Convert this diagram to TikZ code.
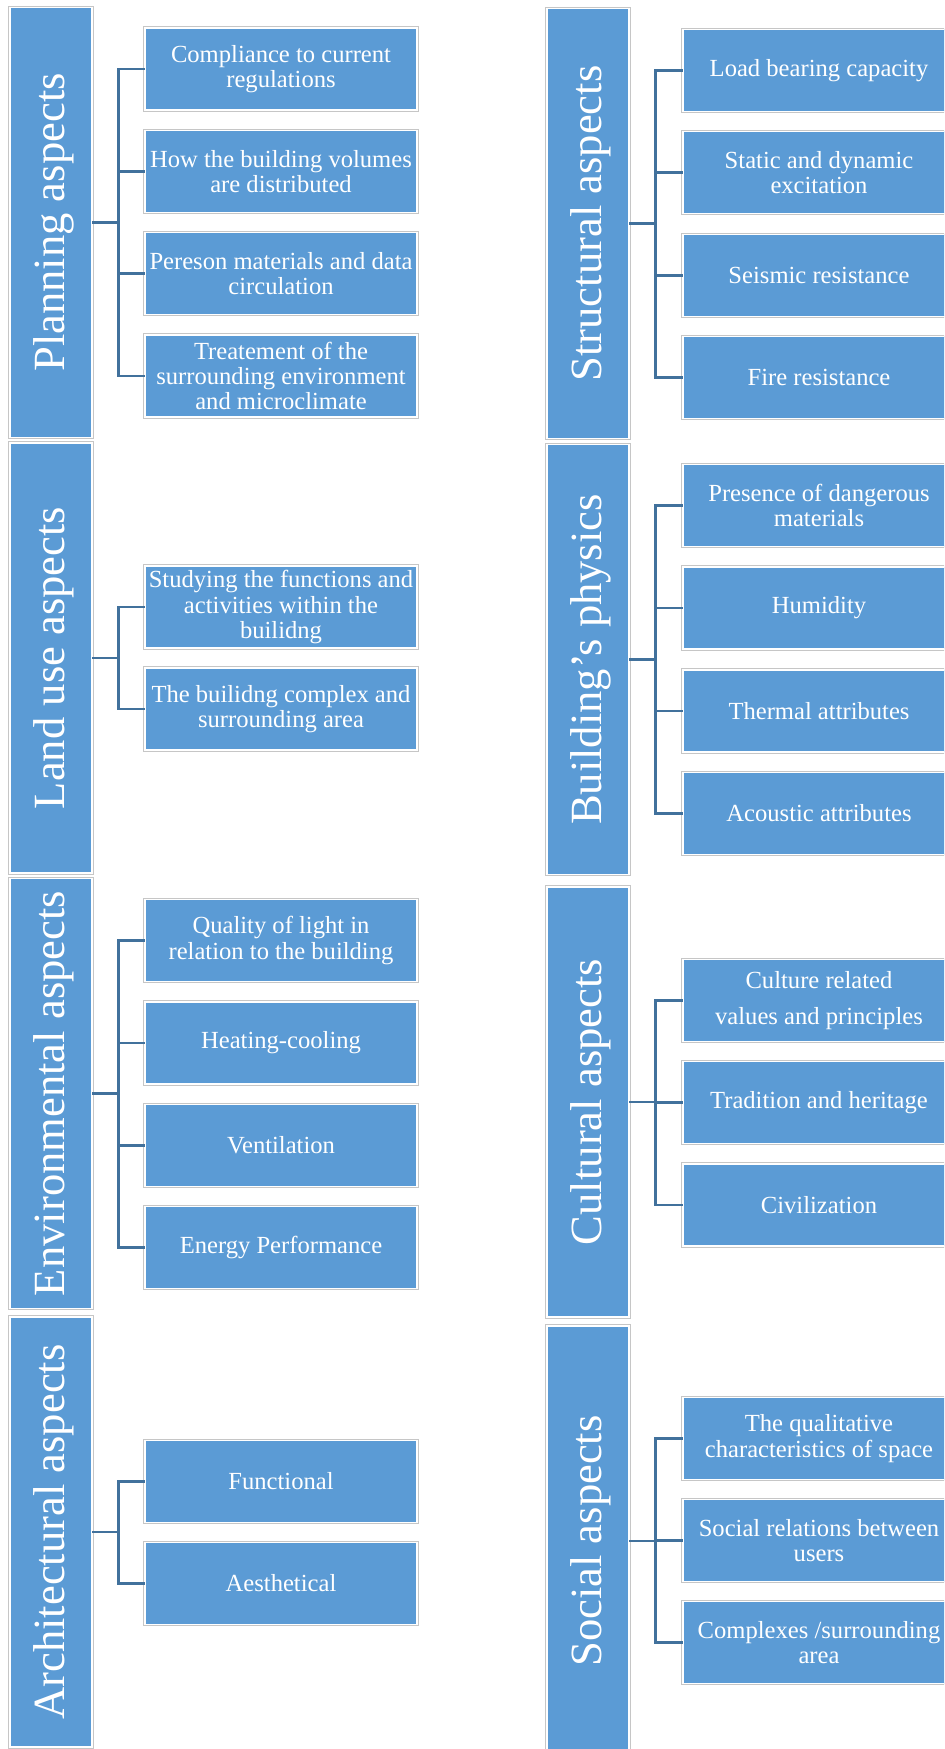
\documentclass[tikz,border=0pt]{standalone}
\usepackage{fontspec}
\setmainfont{Liberation Serif}
\definecolor{boxblue}{HTML}{5B9BD5}
\definecolor{rimgray}{HTML}{C6C6C6}
\definecolor{linkblue}{HTML}{41719C}
\tikzset{
  framed/.style={rectangle, fill=boxblue, draw=white, line width=0.9pt,
    preaction={draw=rimgray, line width=1.9pt}, inner sep=0pt, outer sep=0pt},
  kid/.style={framed, minimum width=136pt, minimum height=41pt,
    text=white, align=center, font=\fontsize{12.3}{12.6}\selectfont},
  head/.style={framed, minimum width=41pt, minimum height=215pt},
  headtext/.style={rotate=90, anchor=base, text=white, inner sep=0pt,
    font=\fontsize{22.3}{26}\selectfont},
  link/.style={draw=linkblue, line width=1.2pt},
}
\begin{document}
\begin{tikzpicture}[x=0.5pt,y=-0.5pt]
\useasboundingbox (0,0) rectangle (944,1749);
\fill[white] (0,0) rectangle (944,1749);
\clip (0,0) rectangle (944,1749);

% ---------- left column ----------
\node[head] (pl) at (51,222.5) {};
\node[headtext] (plt) at ([xshift=6.5pt]pl.center) {Planning aspects};
\node[kid] (pl1) at (281,69) {Compliance to current\\regulations};
\node[kid] (pl2) at (281,171.5) {How the building volumes\\are distributed};
\node[kid] (pl3) at (281,273.5) {Pereson materials and data\\circulation};
\node[kid] (pl4) at (281,376) {Treatement of the\\surrounding environment\\and microclimate};

\node[head] (lu) at (51,658) {};
\node[headtext] (lut) at ([xshift=6.5pt]lu.center) {Land use aspects};
\node[kid] (lu1) at (281,607) {Studying the functions and\\activities within the\\builidng};
\node[kid] (lu2) at (281,709) {The builidng complex and\\surrounding area};

\node[head] (en) at (51,1093.5) {};
\node[headtext] (ent) at ([xshift=6.5pt]en.center) {Environmental aspects};
\node[kid] (en1) at (281,940.5) {Quality of light in\\relation to the building};
\node[kid] (en2) at (281,1043) {Heating-cooling};
\node[kid] (en3) at (281,1145.5) {Ventilation};
\node[kid] (en4) at (281,1247.5) {Energy Performance};

\node[head] (ar) at (51,1532) {};
\node[headtext] (art) at ([xshift=6.5pt]ar.center) {Architectural aspects};
\node[kid] (ar1) at (281,1481.5) {Functional};
\node[kid] (ar2) at (281,1583.5) {Aesthetical};

% ---------- right column ----------
\node[head] (st) at (588,223.5) {};
\node[headtext] (stt) at ([xshift=6.5pt]st.center) {Structural aspects};
\node[kid] (st1) at (819,70.5) {Load bearing capacity};
\node[kid] (st2) at (819,172.5) {Static and dynamic\\excitation};
\node[kid] (st3) at (819,275.5) {Seismic resistance};
\node[kid] (st4) at (819,377.5) {Fire resistance};

\node[head] (bp) at (588,659.5) {};
\node[headtext] (bpt) at ([xshift=6.5pt]bp.center) {Building’s physics};
\node[kid] (bp1) at (819,505.5) {Presence of dangerous\\materials};
\node[kid] (bp2) at (819,608) {Humidity};
\node[kid] (bp3) at (819,711) {Thermal attributes};
\node[kid] (bp4) at (819,813.5) {Acoustic attributes};

\node[head] (cu) at (588,1102) {};
\node[headtext] (cut) at ([xshift=6.5pt]cu.center) {Cultural aspects};
\node[kid] (cu1) at (819,1000.5) {Culture related\\[5.5pt]values and principles};
\node[kid] (cu2) at (819,1102.5) {Tradition and heritage};
\node[kid] (cu3) at (819,1205) {Civilization};

\node[head] (so) at (588,1541) {};
\node[headtext] (sot) at ([xshift=6.5pt]so.center) {Social aspects};
\node[kid] (so1) at (819,1438.5) {The qualitative\\characteristics of space};
\node[kid] (so2) at (819,1540.5) {Social relations between\\users};
\node[kid] (so3) at (819,1642.5) {Complexes /surrounding\\area};

% ---------- elbow connectors ----------
\foreach \p/\kids in {pl/{pl1,pl2,pl3,pl4}, lu/{lu1,lu2}, en/{en1,en2,en3,en4},
                      ar/{ar1,ar2}, st/{st1,st2,st3,st4}, bp/{bp1,bp2,bp3,bp4},
                      cu/{cu1,cu2,cu3}, so/{so1,so2,so3}}
  \foreach \k in \kids
    \draw[link] (\p.east) -- ++(26.5,0) |- (\k.west);
\end{tikzpicture}
\end{document}
